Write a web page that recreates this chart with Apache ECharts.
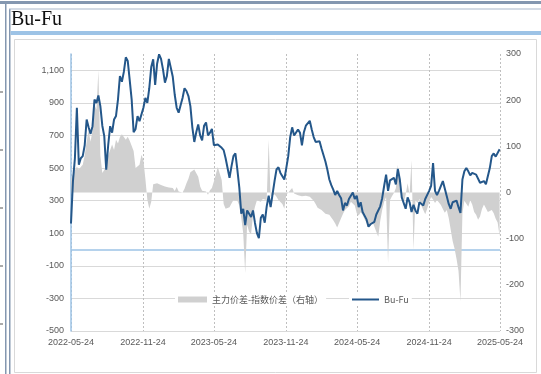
<!DOCTYPE html>
<html>
<head>
<meta charset="utf-8">
<script src="https://cdn.jsdelivr.net/npm/echarts@6/dist/echarts.min.js"></script>
<style>
  html, body { margin: 0; padding: 0; background: #fff; }
  #chart { width: 541px; height: 374px; }
</style>
</head>
<body>
<div id="chart"></div>
<script>
// ---- data ----
const startDate = '2022-05-24';
const endDate = '2025-05-24';
const tickLabels = ['2022-05-24', '2022-11-24', '2023-05-24', '2023-11-24', '2024-05-24', '2024-11-24', '2025-05-24'];
const sampleStepDays = 5; // one reading every 5 calendar days from startDate
const seriesNames = ['主力价差-指数价差（右轴）', 'Bu-Fu'];

const buFuValues = [
  160, 420, 560, 870, 520, 560, 573, 640, 798, 750,
  710, 757, 921, 900, 945, 880, 760, 696, 490, 640,
  757, 717, 798, 820, 920, 1065, 1030, 1090, 1180, 1157,
  1040, 920, 720, 740, 819, 788, 800, 870, 930, 900,
  990, 1120, 1168, 1010, 1140, 1198, 1170, 1106, 1024, 1065,
  1170, 1160, 1060, 950, 870, 840, 885, 930, 990, 973,
  942, 880, 750, 660, 720, 768, 700, 670, 760, 780,
  700, 717, 740, 640, 650, 645, 645, 624, 610, 560,
  500, 440, 510, 573, 590, 490, 380, 220, 250, 150,
  240, 220, 200, 240, 163, 101, 70, 195, 215, 165,
  265, 330, 260, 250, 420, 491, 505, 470, 450, 430,
  500, 573, 690, 750, 700, 690, 737, 717, 640, 720,
  760, 757, 790, 737, 690, 660, 660, 665, 620, 610,
  540, 490, 430, 395, 368, 335, 360, 335, 315, 240,
  286, 270, 310, 330, 350, 310, 330, 260, 290, 230,
  220, 185, 140, 155, 145, 170, 215, 203, 265, 315,
  390, 460, 360, 425, 420, 440, 400, 495, 430, 320,
  320, 250, 320, 290, 230, 275, 240, 220, 290, 300,
  270, 310, 320, 360, 390, 530, 360, 335, 360, 370,
  420, 410, 327, 280, 250, 290, 290, 300, 260, 225,
  430, 480, 500, 480, 455, 470, 480, 460, 460, 410,
  400, 420, 400, 400, 500, 573, 590, 570, 560, 615
];

const spreadValues = [
  30, 34, 48, 56, 50, 55, 60, 80, 110, 135,
  110, 135, 190, 180, 265, 80, 42, 49, 63, 80,
  92, 104, 92, 114, 106, 120, 126, 122, 114, 121,
  112, 108, 90, 53, 54, 60, 82, 70, 30, -15,
  -35, -20, 18, 22, 20, 18, 16, 13, 13, 13,
  11, 10, 10, 3, 12, 2, 2, 0, 8, 20,
  30, 44, 48, 50, 50, 34, 13, 4, 0, 2,
  -5, 5, 10, 24, 28, 55, 58, 27, -25, -35,
  -36, -32, -24, -16, -13, -18, -28, -55, -88, -175,
  -70, -85, -90, -50, -31, -17, -20, -20, -14, -10,
  -16, 114, -9, -12, -4, -9, -16, -15, -25, -35,
  -5, -2, 5, 10, -2, -5, -6, -6, -8, -9,
  -7, -7, -9, -12, -18, -25, -33, -32, -38, -41,
  -46, -50, -48, -48, -60, -67, -76, -75, -56, -46,
  -38, -34, -30, -20, -18, -28, -45, -50, -43, -48,
  -58, -66, -70, -73, -63, -64, -85, -96, -62, -38,
  -20, -10, -153, -16, -8, -1, 10, 60, 8, -9,
  -22, -5, 20, -5, 70, -125, -16, -23, -14, -28,
  -38, -47, -35, -20, -10, -15, -23, -16, -18, -27,
  -36, -44, -38, -55, -80, -105, -122, -144, -170, -236,
  -45, -18, -22, -31, -17, -26, -42, -48, -59, -52,
  -36, -26, -34, -42, -45, -38, -45, -57, -65, -95
];

// ---- build daily category axis ----
function fmt(d) {
  const y = d.getUTCFullYear();
  const m = String(d.getUTCMonth() + 1).padStart(2, '0');
  const dd = String(d.getUTCDate()).padStart(2, '0');
  return y + '-' + m + '-' + dd;
}
const dates = [];
(function () {
  const d = new Date(startDate + 'T00:00:00Z');
  const end = new Date(endDate + 'T00:00:00Z');
  while (d <= end) { dates.push(fmt(d)); d.setUTCDate(d.getUTCDate() + 1); }
})();
const tickSet = new Set(tickLabels);
const showTick = (idx, val) => tickSet.has(val);

const buFuData = buFuValues.map((v, i) => [i * sampleStepDays, v]);
const spreadData = spreadValues.map((v, i) => [i * sampleStepDays, v]);

const labelFont = 'Liberation Sans, Arial, sans-serif';
const chart = echarts.init(document.getElementById('chart'), null, { renderer: 'canvas' });

const frameColor = '#8497b0';
const lineColor = '#24578a';
const areaColor = '#d0d0d0';
const edgeMarks = [92, 150, 208, 266, 324].map(y => ({
  type: 'line', shape: { x1: 0, y1: y, x2: 3, y2: y }, style: { stroke: '#555', lineWidth: 1 }, silent: true
}));
const legendText = { fontSize: 9, color: '#595959', fontFamily: 'Noto Sans CJK SC, sans-serif' };

chart.setOption({
  animation: false,
  backgroundColor: '#fff',
  title: {
    text: 'Bu-Fu',
    left: 11, top: 10, padding: 0,
    textStyle: { fontFamily: 'Liberation Serif, serif', fontSize: 20, fontWeight: 'normal', color: '#111' }
  },
  graphic: [
    { type: 'rect', shape: { x: 0, y: 1, width: 541, height: 3 }, style: { fill: frameColor }, silent: true },
    { type: 'rect', shape: { x: 5, y: 3, width: 1.5, height: 371 }, style: { fill: frameColor }, silent: true },
    { type: 'rect', shape: { x: 9, y: 9, width: 1.5, height: 365 }, style: { fill: frameColor }, silent: true },
    { type: 'rect', shape: { x: 9, y: 8.5, width: 532, height: 1 }, style: { fill: '#a9b7cb' }, silent: true },
    { type: 'rect', shape: { x: 10.5, y: 31, width: 531, height: 4 }, style: { fill: '#9dc3e6' }, silent: true },
    { type: 'rect', shape: { x: 14.5, y: 39.5, width: 522, height: 333 }, style: { fill: 'none', stroke: '#d9d9d9', lineWidth: 1 }, silent: true }
  ].concat(edgeMarks),
  legend: [
    {
      left: 175, top: 294,
      padding: [1, 3],
      backgroundColor: '#fff',
      itemWidth: 29, itemHeight: 6,
      textStyle: legendText,
      data: [{ name: seriesNames[0], icon: 'rect' }]
    },
    {
      left: 349, top: 294,
      padding: [1, 3],
      backgroundColor: '#fff',
      itemWidth: 27, itemHeight: 2,
      textStyle: legendText,
      data: [{ name: seriesNames[1], icon: 'rect' }]
    }
  ],
  grid: { left: 71, right: 41, top: 54, bottom: 43, containLabel: false },
  xAxis: {
    type: 'category',
    data: dates,
    boundaryGap: false,
    axisLine: { show: false },
    axisTick: { show: false },
    axisLabel: { interval: showTick, color: '#595959', fontSize: 9, margin: 7, fontFamily: labelFont },
    splitLine: { show: true, interval: showTick, lineStyle: { color: '#bfbfbf', type: [2, 2], width: 1 } }
  },
  yAxis: [
    {
      type: 'value', position: 'left',
      min: -500, max: 1200, interval: 200,
      axisLine: { show: true, lineStyle: { color: '#9dc3e6', width: 1.5 } },
      axisTick: { show: false },
      axisLabel: {
        color: '#595959', fontSize: 9, margin: 7, fontFamily: labelFont, showMaxLabel: false,
        formatter: v => v.toLocaleString('en-US')
      },
      splitLine: { show: true, showMaxLine: false, lineStyle: { color: '#d9d9d9', width: 1 } }
    },
    {
      type: 'value', position: 'right',
      min: -300, max: 300, interval: 100,
      axisLine: { show: false },
      axisTick: { show: false },
      axisLabel: { color: '#595959', fontSize: 9, margin: 6, fontFamily: labelFont },
      splitLine: { show: false }
    }
  ],
  series: [
    {
      name: seriesNames[0],
      type: 'line',
      yAxisIndex: 1,
      data: spreadData,
      showSymbol: false,
      symbol: 'none',
      lineStyle: { width: 0, color: areaColor },
      itemStyle: { color: areaColor },
      areaStyle: { color: areaColor, opacity: 1 },
      z: 2
    },
    {
      name: seriesNames[1],
      type: 'line',
      yAxisIndex: 0,
      data: buFuData,
      showSymbol: false,
      symbol: 'none',
      lineStyle: { width: 2, color: lineColor },
      itemStyle: { color: lineColor },
      z: 3,
      markLine: {
        silent: true,
        symbol: 'none',
        label: { show: false },
        lineStyle: { color: '#9dc3e6', type: 'solid', width: 1.5 },
        data: [{ yAxis: 0 }],
        z: 1
      }
    }
  ]
});
</script>
</body>
</html>
